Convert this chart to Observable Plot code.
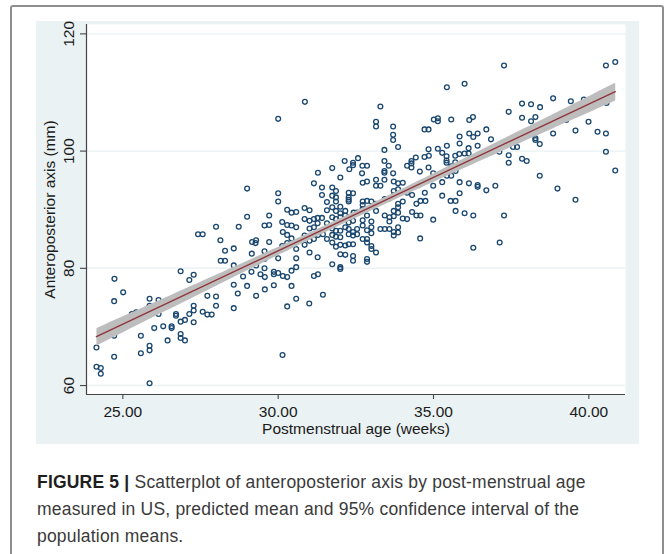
<!DOCTYPE html>
<html>
<head>
<meta charset="utf-8">
<script src="https://cdn.jsdelivr.net/npm/d3@7"></script>
<script src="https://cdn.jsdelivr.net/npm/@observablehq/plot@0.6"></script>
<style>
  html, body { margin: 0; padding: 0; background: #ffffff; }
  #fig { position: relative; width: 670px; height: 554px; overflow: hidden; background: #ffffff; }
  #border { position: absolute; left: 10px; top: 5px; width: 654px; height: 620px; border: 2px solid #8f8f8f; border-radius: 3px; box-sizing: border-box; }
  #chart { position: absolute; left: 36px; top: 21px; }
  #caption { position: absolute; left: 37px; top: 469px; width: 625px; font-family: "Liberation Sans", Arial, sans-serif; font-size: 17.5px; letter-spacing: 0.2px; line-height: 27px; color: #3a3a3a; white-space: nowrap; }
  #caption b { color: #1e1e1e; }
</style>
</head>
<body>
<div id="fig">
  <div id="border"></div>
  <div id="chart"></div>
  <div id="caption">
    <div><b>FIGURE 5 |</b> Scatterplot of anteroposterior axis by post-menstrual age</div>
    <div>measured in US, predicted mean and 95% confidence interval of the</div>
    <div>population means.</div>
  </div>
</div>
<script>
// Tick values
const xTicks = [25, 30, 35, 40];
const yTicks = [60, 80, 100, 120];
const xTitle = "Postmenstrual age (weeks)";
const yTitle = "Anteroposterior axis (mm)";

// [postmenstrual age (weeks), anteroposterior axis (mm)]
const pmaBelow28 = [
  [24.15,66.5],[24.15,63.2],[24.29,63.0],[24.29,62.0],[24.73,78.2],[24.72,74.4],[24.72,68.5],[24.72,64.9],
  [25.01,75.9],[25.29,72.2],[25.43,72.5],[25.58,68.5],[25.58,65.5],[25.86,66.8],[25.86,66.0],[25.86,60.4],
  [25.86,74.8],[25.86,73.6],[26.15,74.6],[26.15,72.2],[26.01,69.8],[26.30,70.1],[26.44,67.7],[26.57,70.1],
  [26.57,69.8],[26.71,72.2],[26.71,71.9],[26.86,79.5],[26.86,70.9],[26.86,68.8],[26.86,68.1],[27.00,71.2],
  [27.00,67.7],[27.14,78.0],[27.14,72.2],[27.28,78.9],[27.28,73.6],[27.28,72.8],[27.28,70.8],[27.57,72.6],
  [27.72,75.3],[27.72,72.1],[27.86,72.1],[28.00,75.2],[28.00,73.6],[28.15,81.3],[28.29,81.3],[28.00,87.1],
  [27.42,85.8],[27.57,85.8],[28.14,84.8],[28.29,83.0]
];
const pma28to31 = [
  [29.00,93.6],[30.00,92.8],[30.00,91.4],[31.41,93.8],[31.41,92.5],[31.57,91.3],[29.00,88.8],[29.71,89.0],
  [30.29,90.0],[30.43,89.5],[30.58,89.6],[30.85,90.3],[31.01,89.9],[31.57,89.9],[30.85,88.4],[31.01,88.1],
  [31.15,88.4],[31.27,88.6],[31.41,88.6],[28.73,87.1],[29.56,87.3],[29.71,87.4],[30.13,87.9],[30.29,87.4],
  [30.43,87.3],[30.58,87.0],[30.15,86.2],[30.29,85.7],[30.43,85.1],[31.01,86.8],[31.15,87.0],[31.27,87.7],
  [31.57,87.7],[30.85,85.6],[31.01,84.7],[31.15,85.0],[31.28,85.7],[31.44,85.8],[31.57,85.0],[28.57,83.4],
  [29.16,84.5],[29.29,84.8],[29.27,84.3],[29.71,84.5],[29.56,82.9],[30.13,83.8],[30.29,84.3],[30.43,84.1],
  [30.58,83.3],[30.85,84.0],[31.01,82.7],[31.27,81.9],[28.57,80.5],[29.14,79.4],[29.29,80.5],[29.56,81.6],
  [29.56,80.0],[30.00,81.7],[29.86,79.4],[29.86,79.0],[30.00,79.2],[30.15,78.7],[30.29,78.5],[30.58,81.7],
  [30.58,80.2],[30.43,79.6],[29.43,79.0],[29.57,78.5],[28.87,78.6],[28.57,77.2],[29.00,77.0],[29.86,77.1],
  [30.43,77.0],[31.15,78.7],[31.28,79.0],[28.70,75.7],[29.29,75.3],[29.57,76.4],[30.58,74.8],[31.44,75.5],
  [28.57,73.2],[30.14,65.2],[30.29,73.5],[31.00,74.0],[30.86,108.4],[30.00,105.5],[31.28,96.3],[31.15,94.5],
  [29.15,82.5]
];
const pma31to35 = [
  [32.00,95.5],[32.72,94.6],[32.86,94.8],[33.15,95.1],[33.15,94.1],[33.29,94.1],[33.42,95.1],[33.72,94.8],
  [33.86,94.5],[34.01,94.6],[31.74,93.8],[31.86,93.2],[31.74,92.4],[31.86,92.1],[31.86,91.4],[32.27,92.9],
  [32.41,92.8],[32.27,92.1],[32.27,91.7],[32.27,91.4],[32.72,91.4],[32.86,91.5],[33.00,91.4],[32.72,90.8],
  [32.72,90.1],[33.15,91.0],[33.43,91.8],[33.58,91.9],[33.72,92.4],[33.86,91.0],[34.01,91.4],[34.15,92.9],
  [34.31,92.5],[34.45,91.0],[34.58,91.5],[34.72,92.9],[34.74,91.5],[31.74,90.4],[31.86,89.8],[32.00,90.5],
  [32.00,89.4],[32.16,89.8],[31.74,88.7],[31.86,88.4],[32.00,88.7],[32.16,89.0],[32.27,88.7],[32.43,89.5],
  [32.54,89.5],[32.27,87.8],[32.41,88.1],[32.72,88.2],[32.86,89.0],[33.00,88.0],[33.15,89.8],[33.43,89.0],
  [33.58,88.7],[33.72,89.8],[33.86,90.4],[33.86,89.5],[33.72,88.9],[33.58,88.0],[34.01,88.5],[34.15,88.4],
  [34.31,89.6],[34.45,89.0],[34.58,89.0],[31.74,86.8],[31.86,86.4],[32.00,86.4],[32.16,87.0],[32.27,86.7],
  [32.41,86.2],[32.54,86.7],[32.27,85.8],[32.41,85.6],[32.54,85.8],[32.72,87.3],[32.86,86.5],[33.00,87.0],
  [33.29,86.7],[33.43,86.7],[33.58,86.7],[33.72,86.2],[33.86,87.0],[33.72,85.6],[33.86,86.1],[34.57,85.1],
  [31.74,85.7],[31.86,85.4],[32.00,85.3],[31.74,84.4],[31.86,83.7],[32.00,84.0],[32.16,83.9],[32.27,84.1],
  [32.41,84.1],[32.72,85.0],[32.86,85.0],[33.00,86.0],[32.86,84.4],[33.00,83.8],[33.00,83.3],[33.15,82.7],
  [32.00,82.4],[32.16,82.3],[32.41,82.1],[32.41,81.3],[32.86,81.6],[32.86,81.1],[31.74,80.7],[32.00,80.2],
  [32.00,79.9],[33.72,93.2],[33.86,93.5],
  [33.29,107.6],[33.15,105.0],[33.15,104.2],[33.70,104.2],[33.70,102.8],[33.70,101.9],[33.86,100.7],[33.42,100.2],
  [34.71,103.7],[34.84,103.7],[34.84,100.3],[31.74,97.1],[32.14,98.3],[32.29,96.9],[32.41,98.0],[32.41,97.6],
  [32.57,98.8],[32.71,97.5],[32.86,97.5],[32.70,96.2],[33.42,98.3],[33.56,97.5],[33.42,96.6],[33.42,96.3],
  [33.70,96.2],[34.15,97.5],[34.29,98.3],[34.29,97.9],[34.29,97.2],[34.43,98.9],[34.56,96.5],[34.71,99.0],
  [34.84,97.2],[34.85,99.2]
];
const pmaAbove35 = [
  [37.27,114.6],[35.43,110.9],[36.00,111.5],[40.55,114.6],[40.85,115.2],[37.85,108.1],[38.14,108.0],[38.43,107.5],
  [38.85,109.0],[39.42,108.5],[39.84,108.8],[37.42,106.7],[37.85,105.7],[38.28,105.8],[38.14,105.1],[39.99,105.0],
  [40.28,103.3],[40.55,103.0],[40.57,108.2],[39.27,105.3],[39.57,103.5],[38.85,103.0],[38.42,101.2],[38.28,102.2],
  [38.28,101.9],[38.00,98.3],[37.85,98.7],[37.42,99.3],[37.42,98.0],[37.56,100.7],[37.69,100.7],[37.12,99.9],
  [36.70,103.7],[36.85,102.0],[36.15,103.0],[36.28,102.4],[36.42,103.0],[36.27,105.8],[36.15,105.3],[35.57,105.4],
  [35.01,105.4],[35.14,105.1],[35.14,105.6],[35.84,102.5],[35.84,101.3],[35.70,99.2],[35.83,99.5],[36.00,99.6],
  [36.13,99.6],[36.13,100.5],[36.42,100.9],[35.14,100.4],[35.28,99.7],[35.43,100.9],[35.42,99.1],[35.42,98.4],
  [35.42,98.0],[35.57,97.4],[35.70,98.1],[40.55,99.9],[40.85,96.7],
  [34.99,88.3],[35.28,92.4],[35.28,94.7],[35.43,95.8],[35.55,91.5],[35.71,91.5],[35.71,89.8],[35.84,94.7],
  [35.84,92.8],[36.00,89.4],[36.14,94.5],[36.28,89.0],[36.28,83.5],[36.42,94.2],[36.42,93.9],[36.70,93.3],
  [36.99,94.1],[37.13,84.4],[37.27,89.0],[38.42,95.8],[38.99,93.6],[39.57,91.7],[35.57,95.8],[35.71,96.6],
  [34.99,96.2],[34.99,94.1]
];

const points = [...pmaBelow28, ...pma28to31, ...pma31to35, ...pmaAbove35]
  .map(([age, ap]) => ({age, ap}));

const xDomain = [23.83, 41.18];
const yDomain = [58.47, 121.6];
const axisColor = "#444444";

const chart = Plot.plot({
  width: 603,
  height: 423,
  marginLeft: 50,
  marginRight: 14,
  marginTop: 3,
  marginBottom: 50,
  x: {domain: xDomain},
  y: {domain: yDomain},
  style: {
    background: "#eaf2f3",
    fontFamily: "'Liberation Sans', Arial, sans-serif",
    fontSize: "15.5px",
    color: "#1a1a1a",
    overflow: "visible"
  },
  marks: [
    Plot.frame({fill: "#ffffff", stroke: null}),
    Plot.gridY(yTicks, {stroke: "#eaf2f3", strokeOpacity: 1, strokeWidth: 1.4}),
    Plot.dot(points, {x: "age", y: "ap", r: 2.4, stroke: "#1a476f", strokeWidth: 1.3, fill: "none"}),
    Plot.linearRegressionY(points, {x: "age", y: "ap", ci: 0.95, fill: "#bdbdbd", fillOpacity: 1, stroke: "none"}),
    Plot.linearRegressionY(points, {x: "age", y: "ap", ci: 0, stroke: "#90353b", strokeWidth: 1.4}),
    Plot.ruleX([xDomain[0]], {stroke: axisColor, strokeWidth: 1.2}),
    Plot.ruleY([yDomain[0]], {stroke: axisColor, strokeWidth: 1.2}),
    Plot.axisX(xTicks, {
      tickSize: 5, tickPadding: 6, stroke: axisColor, strokeWidth: 1.1,
      tickFormat: d => d.toFixed(2), label: null, fill: "#1a1a1a"
    }),
    Plot.axisY(yTicks, {tickSize: 6, stroke: axisColor, strokeWidth: 1.1, tickFormat: () => "", label: null}),
    Plot.text(yTicks, {frameAnchor: "left", y: d => d, text: d => String(d), rotate: -90, dx: -17, textAnchor: "middle", fill: "#1a1a1a"}),
    Plot.text([xTitle], {frameAnchor: "bottom", text: d => d, dy: 39, textAnchor: "middle", fill: "#1a1a1a"}),
    Plot.text([yTitle], {frameAnchor: "left", text: d => d, dx: -36, rotate: -90, textAnchor: "middle", fill: "#1a1a1a"})
  ]
});
document.getElementById("chart").appendChild(chart);
</script>
</body>
</html>
